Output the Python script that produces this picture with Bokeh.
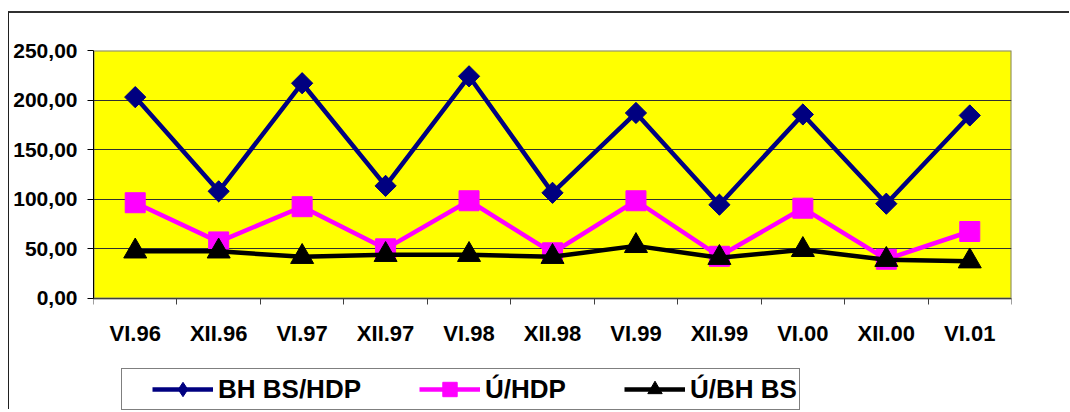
import numpy as np
from bokeh.plotting import figure
from bokeh.models import FixedTicker, Legend, LegendItem, Range1d
from bokeh.embed import file_html
from bokeh.resources import INLINE

categories = ["VI.96", "XII.96", "VI.97", "XII.97", "VI.98", "XII.98",
              "VI.99", "XII.99", "VI.00", "XII.00", "VI.01"]
bh_bs_hdp = [203, 108, 217, 113.5, 224, 106.5, 187, 94.5, 185.5, 95.5, 184.5]
u_hdp = [96.5, 57, 92.5, 50, 98.5, 46, 98.5, 42.5, 91, 39.5, 67.5]
u_bh_bs = [47.5, 47.5, 42, 44, 44, 42, 53, 41, 49, 39, 37.5]
y_ticks = [0, 50, 100, 150, 200, 250]
series_names = ["BH BS/HDP", "Ú/HDP", "Ú/BH BS"]

FONT = "Liberation Sans"

xs = [i + 0.5 for i in range(len(categories))]
y_min, y_max = y_ticks[0], y_ticks[-1]

# frame extends below the plot area so the legend (drawn inside the frame) is not clipped
p = figure(width=1061, height=398, output_backend="svg", toolbar_location=None,
           x_range=Range1d(0, len(categories)), y_range=Range1d(-114, y_max),
           min_border_left=84, min_border_right=59, min_border_top=37, min_border_bottom=0)
p.styles = {"border-left": "1px solid #202020", "border-top": "2px solid #303030",
            "margin-top": "11px", "margin-left": "8px"}

p.background_fill_color = "white"
p.border_fill_color = "white"
p.outline_line_color = None

# plot area (yellow) spanning the axis ranges
p.quad(left=[0], right=[len(categories)], bottom=[y_min], top=[y_max],
       fill_color="#FFFF00", line_color="#808080", line_width=2, level="image")

# axes
p.xaxis.fixed_location = 0
p.xaxis.ticker = FixedTicker(ticks=xs, minor_ticks=list(range(len(categories) + 1)))
p.xaxis.major_label_overrides = {x: c for x, c in zip(xs, categories)}
p.xaxis.major_tick_line_color = None
p.xaxis.minor_tick_line_color = "#404040"
p.xaxis.minor_tick_in = 0
p.xaxis.minor_tick_out = 6
p.xaxis.axis_line_color = "#404040"
p.xaxis.major_label_text_font = FONT
p.xaxis.major_label_text_font_style = "bold"
p.xaxis.major_label_text_font_size = "22px"
p.xaxis.major_label_text_color = "black"
p.xaxis.major_label_standoff = 17

p.yaxis.ticker = FixedTicker(ticks=y_ticks, minor_ticks=[])
p.yaxis.bounds = (y_min, y_max)
p.yaxis.major_label_overrides = {v: f"{v:.2f}".replace(".", ",") for v in y_ticks}
p.yaxis.major_tick_in = 0
p.yaxis.major_tick_out = 6
p.yaxis.major_tick_line_color = "black"
p.yaxis.axis_line_color = "black"
p.yaxis.major_label_text_font = FONT
p.yaxis.major_label_text_font_style = "bold"
p.yaxis.major_label_text_font_size = "21px"
p.yaxis.major_label_text_color = "black"
p.yaxis.major_label_standoff = 10

p.xgrid.grid_line_color = None
p.ygrid.ticker = FixedTicker(ticks=y_ticks[1:-1])
p.ygrid.grid_line_color = "#303030"
p.ygrid.grid_line_width = 1

# series
l1 = p.line(xs, bh_bs_hdp, line_color="#000080", line_width=4.5)
m1d = p.scatter(xs, bh_bs_hdp, marker="diamond", size=20,
                fill_color="#000080", line_color="#000080")
m1 = p.scatter(xs, bh_bs_hdp, marker="square", angle=np.pi / 4, size=15,
               fill_color="#000080", line_color="#000080")
l2 = p.line(xs, u_hdp, line_color="#FF00FF", line_width=4.5)
m2 = p.scatter(xs, u_hdp, marker="square", size=20,
               fill_color="#FF00FF", line_color="#FF00FF")
l3 = p.line(xs, u_bh_bs, line_color="black", line_width=4.5)
m3 = p.scatter(xs, u_bh_bs, marker="triangle", size=23,
               fill_color="black", line_color="black")

legend = Legend(items=[LegendItem(label=series_names[0], renderers=[l1, m1d]),
                       LegendItem(label=series_names[1], renderers=[l2, m2]),
                       LegendItem(label=series_names[2], renderers=[l3, m3])],
                orientation="horizontal")
legend_x = 56
try:
    legend.title_location = "left"
    legend.title = "\u00a0"
    legend.title_standoff = 17
    legend.title_text_font_size = "10px"
    legend_x = 28
except Exception:
    legend.title = None
legend.location = (legend_x, 1)
legend.label_text_font = FONT
legend.label_text_font_style = "bold"
legend.label_text_font_size = "26px"
legend.label_text_color = "black"
legend.glyph_width = 61
legend.glyph_height = 36
legend.label_height = 36
legend.label_standoff = 5
legend.spacing = 58
legend.padding = 2
legend.margin = 0
legend.border_line_color = "black"
legend.border_line_width = 1
legend.background_fill_color = "white"
legend.background_fill_alpha = 1
p.add_layout(legend, "center")

open("out.html", "w").write(file_html(p, INLINE))
